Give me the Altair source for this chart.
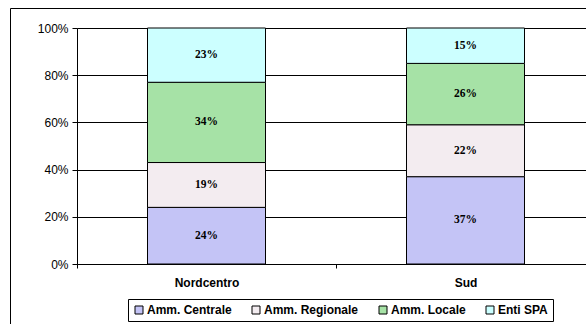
import altair as alt
import pandas as pd

# Shares of spending by administration level, per macro-area (percent)
areas = ["Nordcentro", "Sud"]
levels = ["Amm. Centrale", "Amm. Regionale", "Amm. Locale", "Enti SPA"]
nordcentro = [24, 19, 34, 23]
sud = [37, 22, 26, 15]
colors = ["#c4c4f6", "#f3ecf0", "#a6e2a6", "#ccffff"]
y_ticks = [0, 20, 40, 60, 80, 100]

rows = []
for area, vals in zip(areas, [nordcentro, sud]):
    for i, (lvl, v) in enumerate(zip(levels, vals)):
        rows.append({"area": area, "level": lvl, "order": i, "value": v})
df = pd.DataFrame(rows)

base = alt.Chart(df).transform_stack(
    stack="value", groupby=["area"], as_=["y0", "y1"],
    sort=[alt.SortField("order", order="ascending")]
).transform_calculate(
    mid="(datum.y0 + datum.y1) / 2",
    label="datum.value + '%'"
)

x_enc = alt.X(
    "area:N", sort=areas, title=None,
    scale=alt.Scale(range=[0, 518], paddingInner=0, paddingOuter=0),
    axis=alt.Axis(
        labelFont="Liberation Sans", labelFontSize=12, labelFontWeight="bold",
        labelColor="#000", labelAngle=0, labelPadding=9,
        tickBand="extent", tickColor="#000", tickSize=4,
        domainColor="#000", grid=False,
    ),
)

y_scale = alt.Scale(domain=[0, 100], nice=False)

bars = base.mark_bar(size=118, stroke="#000", strokeWidth=1).encode(
    x=x_enc,
    y=alt.Y(
        "y0:Q", scale=y_scale, title=None,
        axis=alt.Axis(
            values=y_ticks, labelExpr="datum.value + '%'",
            labelFont="Liberation Sans", labelFontSize=12, labelColor="#000",
            labelPadding=4, tickColor="#000", tickSize=5,
            domainColor="#000", gridColor="#000", gridOpacity=1, gridWidth=1,
        ),
    ),
    y2="y1:Q",
    color=alt.Color(
        "level:N", sort=levels,
        scale=alt.Scale(domain=levels, range=colors),
        legend=alt.Legend(
            title=None, orient="none", direction="horizontal",
            legendX=51, legendY=271,
            labelFont="Liberation Sans", labelFontSize=12, labelFontWeight="bold",
            labelColor="#000", symbolType="square", symbolSize=64,
            symbolStrokeColor="#000", symbolStrokeWidth=1,
            labelOffset=2, columnPadding=18, padding=5,
            strokeColor="#000", fillColor="#fff",
        ),
    ),
    order=alt.Order("order:Q"),
)

labels = base.mark_text(
    font="Liberation Serif", fontSize=11.5, fontWeight="bold", color="#000"
).encode(
    x=alt.X("area:N", sort=areas),
    y=alt.Y("mid:Q", scale=y_scale),
    text="label:N",
)

# outer chart frame (left and top edges fall inside the page)
frame = alt.Chart(pd.DataFrame({"f": [0]})).mark_rect(
    fill="#fff", fillOpacity=0, stroke="#000", strokeWidth=1
).encode(
    x=alt.value(-66.5), x2=alt.value(620),
    y=alt.value(-19.5), y2=alt.value(330),
)

chart = alt.layer(frame, bars, labels).properties(
    width=509, height=236,
    padding={"left": 77, "top": 28, "right": 0, "bottom": 60},
    autosize=alt.AutoSizeParams(type="none"),
).configure_view(stroke=None).configure(background="#fff")

chart.save("out.html", embed_options={"renderer": "svg", "actions": False})
